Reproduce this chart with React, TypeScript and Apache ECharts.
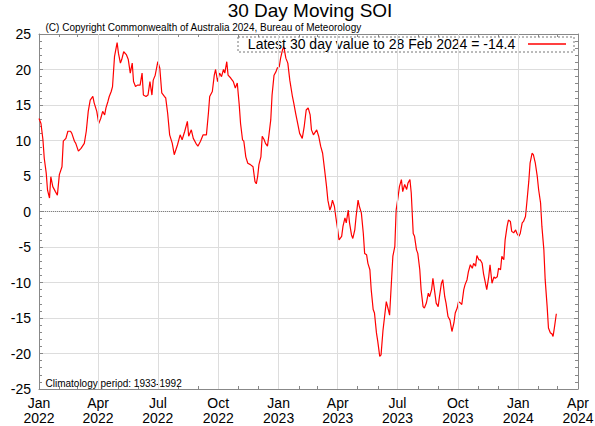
import React, { useEffect, useRef } from 'react';
import * as echarts from 'echarts';

const FONT = '"Liberation Sans", Arial, Helvetica, sans-serif';

const TITLE = '30 Day Moving SOI';
const COPYRIGHT = '(C) Copyright Commonwealth of Australia 2024, Bureau of Meteorology';
const CLIMATOLOGY = 'Climatology period: 1933-1992';
const SERIES_NAME = 'Latest 30 day value to 28 Feb 2024 = -14.4';

// Day offsets counted from 1 Jan 2022
const dayOffsets = [
  0, 3, 6, 8, 11, 13, 16, 18, 21, 25, 28, 31, 35, 37, 41, 44, 48, 50, 54, 56,
  60, 64, 69, 72, 75, 78, 82, 84, 88, 91, 94, 97, 100, 102, 105, 107, 110, 112, 115, 117,
  119, 121, 124, 126, 129, 133, 136, 139, 142, 144, 147, 150, 154, 157, 159, 163, 166, 169, 172, 174,
  177, 181, 184, 187, 191, 193, 196, 199, 203, 206,
  211, 215, 218, 222, 226, 228, 232, 235, 239, 242, 246, 250, 255, 258, 260, 264, 267, 269, 272, 275,
  278, 281, 283, 286, 288, 292, 296, 299, 302, 305, 307, 310, 312, 315, 318, 322, 326, 329, 331, 333,
  335, 338, 340, 343, 345, 348, 350, 353, 355, 358, 361, 363, 366, 368, 371, 373, 376, 379, 382, 386,
  388, 391, 394, 397, 401, 404, 407, 410, 413, 415, 418,
  423, 426, 429, 432, 435, 438, 440, 443, 445, 447, 450, 452, 455, 457, 461, 463, 466, 468, 471, 473,
  476, 478, 481, 483, 486, 488, 491, 494, 496, 499, 501, 504, 506, 509, 511, 514, 516, 519, 521, 524,
  527, 529, 532, 534, 537, 539, 542, 544, 547, 549, 552, 554, 557, 560, 562, 565, 567, 570, 572, 575,
  577, 580, 582, 585, 587, 590, 593, 595, 598, 600, 603, 605, 608, 610, 613, 615, 618, 620, 623, 626,
  629, 632, 634, 637, 639, 642, 644, 647, 649, 652, 654, 657, 660, 662, 665, 667, 670, 672, 675, 677,
  680, 682, 685, 687, 690, 693, 695, 698, 700, 703, 705, 708, 710, 713, 715, 718, 720, 723, 726, 728,
  731, 733, 736, 738, 741, 743, 746, 748, 751, 753, 756, 759, 761, 764, 766, 769, 771, 774, 776, 779,
  781, 783, 785, 788,
];

const soiValues = [
  13.1, 12.4, 10.1, 7.5, 5.4, 3.0, 1.9, 4.9, 3.5, 2.8, 2.3, 5.2, 6.3, 9.9, 10.3, 11.3, 11.3, 11.0, 9.9, 9.6,
  8.5, 8.9, 9.6, 11.3, 14.1, 15.7, 16.2, 15.3, 14.1, 12.4, 13.1, 14.1, 13.6, 14.6, 15.5, 16.2, 16.9, 17.6, 21.8, 22.8,
  23.8, 22.3, 20.9, 21.4, 22.5, 22.1, 21.4, 19.5, 20.9, 18.3, 17.6, 17.8, 17.8, 19.5, 16.4, 16.2, 16.4, 18.3, 16.4, 18.5,
  19.2, 21.1, 20.2, 16.7, 16.2, 16.0, 13.8, 10.8, 9.6, 8.0,
  9.4, 10.8, 10.1, 11.3, 12.7, 10.6, 11.5, 10.3, 9.6, 9.2, 9.9, 10.8, 10.8, 13.8, 16.2, 16.9, 19.2, 20.0, 18.3, 19.5,
  19.0, 20.0, 19.5, 21.1, 19.2, 18.8, 18.3, 17.4, 18.1, 15.0, 12.4, 10.1, 9.9, 7.7, 6.8, 6.6, 6.3, 4.2, 3.9, 4.9,
  6.6, 7.7, 10.6, 10.1, 9.6, 9.2, 10.6, 12.9, 16.4, 19.2, 19.7, 20.2, 20.4, 21.6, 22.8, 23.2, 21.6, 20.9, 18.5, 16.2,
  15.3, 13.8, 12.4, 11.0, 10.3, 12.0, 14.3, 14.6, 13.6, 11.5, 10.8,
  11.5, 10.6, 9.2, 8.2, 5.9, 3.5, 1.6, 0.2, 0.7, 1.6, 0.7, -0.7, -2.6, -4.0, -3.5, -2.1, -0.9, -1.6, 0.2, -1.6,
  -3.3, -3.8, -2.6, -0.7, 1.6, 0.7, -0.2, -3.1, -5.9, -6.1, -7.3, -8.2, -11.0, -13.8, -14.3, -17.1, -18.3, -20.4, -20.2, -16.7,
  -14.3, -12.7, -13.8, -14.6, -9.6, -6.3, -4.9, 0.2, 2.1, 3.5, 4.5, 2.8, 3.8, 3.1, 4.0, 4.5, 2.6, -3.1, -3.5, -5.4,
  -5.9, -8.2, -11.0, -13.4, -13.6, -12.9, -11.5, -12.0, -11.0, -9.4, -11.5, -12.9, -13.4, -12.0, -10.1, -9.6, -12.0, -12.9, -14.8, -15.3,
  -16.9, -15.7, -14.3, -13.6, -12.7, -12.9, -13.1, -11.0, -10.3, -9.6, -8.5, -7.5, -8.0, -7.3, -7.7, -6.2, -6.8, -6.8, -7.3, -8.7,
  -10.1, -11.0, -9.2, -7.5, -10.1, -9.2, -9.4, -9.2, -8.0, -8.2, -6.3, -6.8, -4.0, -2.1, -1.2, -1.4, -2.8, -3.0, -2.6, -3.1,
  -3.5, -3.1, -1.6, -1.4, -0.7, 1.2, 4.2, 6.8, 8.2, 8.0, 6.8, 4.9, 3.1, 1.2, -2.1, -5.4, -9.6, -13.4, -16.4, -17.1,
  -17.2, -17.6, -16.4, -14.4,
];

// Quarterly tick labels (x axis) and month tick marks
const quarterTicks = [
  '2022-01-01', '2022-04-01', '2022-07-01', '2022-10-01',
  '2023-01-01', '2023-04-01', '2023-07-01', '2023-10-01',
  '2024-01-01', '2024-04-01',
];
const monthNames = ['Jan', 'Feb', 'Mar', 'Apr', 'May', 'Jun', 'Jul', 'Aug', 'Sep', 'Oct', 'Nov', 'Dec'];
const ORIGIN = '2022-01-01';
const X_MAX = '2024-04-01';
const Y_MIN = -25;
const Y_MAX = 25;
const Y_STEP = 5;

function parseDay(s: string): number {
  const [y, m, d] = s.split('-').map(Number);
  return Date.UTC(y, m - 1, d);
}
const DAY_MS = 86400000;
function dayIndex(s: string): number {
  return Math.round((parseDay(s) - parseDay(ORIGIN)) / DAY_MS);
}
function dayToDate(v: number): Date {
  return new Date(parseDay(ORIGIN) + Math.round(v) * DAY_MS);
}

export default function App() {
  const ref = useRef<HTMLDivElement>(null);

  useEffect(() => {
    document.body.style.margin = '0';
    if (!ref.current) return;
    const chart = echarts.init(ref.current, undefined, { renderer: 'svg' });

    const xMin = 0;
    const xMax = dayIndex(X_MAX);
    const quarterDays = quarterTicks.map(dayIndex);
    const monthDays: number[] = [];
    for (let y = 2022; y <= 2024; y++) {
      for (let m = 0; m < 12; m++) {
        const d = Math.round((Date.UTC(y, m, 1) - parseDay(ORIGIN)) / DAY_MS);
        if (d >= xMin && d <= xMax) monthDays.push(d);
      }
    }
    const data = dayOffsets.map((d, i) => [d, soiValues[i]]);
    const inner = quarterDays.filter((t) => t > xMin && t < xMax);

    const gray = '#888888';
    const gridGray = '#dddddd';

    const option: any = {
      animation: false,
      backgroundColor: '#ffffff',
      textStyle: { fontFamily: FONT },
      grid: { left: 39, right: 17, top: 34, bottom: 37, containLabel: false, outerBoundsMode: 'none' },
      legend: {
        data: [SERIES_NAME],
        right: 29,
        top: 37,
        align: 'right',
        icon: 'rect',
        itemWidth: 38,
        itemHeight: 1.5,
        itemGap: 0,
        padding: 0,
        selectedMode: false,
        formatter: (n: string) => n + '  ',
        textStyle: { fontSize: 14, color: '#000', fontFamily: FONT },
        z: 5,
      },
      xAxis: [
        {
          type: 'value',
          position: 'bottom',
          min: xMin,
          max: xMax,
          axisLine: { show: true, onZero: false, lineStyle: { color: gray, width: 1 } },
          axisTick: { show: true, inside: true, length: 3, customValues: monthDays, lineStyle: { color: gray } },
          axisLabel: {
            customValues: quarterDays,
            formatter: (v: number) => {
              const d = dayToDate(v);
              return monthNames[d.getUTCMonth()] + '\n' + d.getUTCFullYear();
            },
            fontSize: 14,
            lineHeight: 15,
            color: '#000',
            margin: 6,
            fontFamily: FONT,
            hideOverlap: false,
          },
          splitLine: { show: false },
        },
        {
          type: 'value',
          position: 'top',
          min: xMin,
          max: xMax,
          axisLine: { show: true, onZero: false, lineStyle: { color: gray, width: 1 } },
          axisTick: { show: true, inside: true, length: 3, customValues: monthDays, lineStyle: { color: gray } },
          axisLabel: { show: false },
          splitLine: { show: false },
        },
      ],
      yAxis: [
        {
          type: 'value',
          position: 'left',
          min: Y_MIN,
          max: Y_MAX,
          interval: Y_STEP,
          axisLine: { show: true, onZero: false, lineStyle: { color: gray, width: 1 } },
          axisTick: { show: true, inside: true, length: 4, lineStyle: { color: gray } },
          minorTick: { show: true, splitNumber: 5, length: 3, lineStyle: { color: gray } },
          axisLabel: { fontSize: 14, color: '#000', margin: 8, fontFamily: FONT },
          splitLine: { show: true, showMinLine: false, showMaxLine: false, lineStyle: { color: gridGray, width: 1 } },
        },
        {
          type: 'value',
          position: 'right',
          min: Y_MIN,
          max: Y_MAX,
          interval: Y_STEP,
          axisLine: { show: true, onZero: false, lineStyle: { color: gray, width: 1 } },
          axisTick: { show: true, inside: true, length: 4, lineStyle: { color: gray } },
          minorTick: { show: true, splitNumber: 5, length: 3, lineStyle: { color: gray } },
          axisLabel: { show: false },
          splitLine: { show: false },
        },
      ],
      series: [
        {
          name: 'grid-lines',
          type: 'line',
          data: data,
          symbol: 'none',
          lineStyle: { opacity: 0 },
          silent: true,
          z: 1,
          markLine: {
            silent: true,
            symbol: ['none', 'none'],
            label: { show: false },
            lineStyle: { color: gridGray, width: 1, type: 'solid' },
            data: inner.map((t) => ({ xAxis: t })),
          },
        },
        {
          name: SERIES_NAME,
          type: 'line',
          data: data,
          symbol: 'none',
          showSymbol: false,
          lineStyle: { color: '#ff0000', width: 1.2 },
          itemStyle: { color: '#ff0000' },
          z: 3,
          markLine: {
            silent: true,
            symbol: ['none', 'none'],
            label: { show: false },
            lineStyle: { color: '#808080', width: 1, type: 'dotted' },
            data: [{ yAxis: 0 }],
          },
        },
      ],
      graphic: [
        {
          type: 'rect',
          z: 2,
          silent: true,
          shape: { x: 238, y: 37, width: 336, height: 15 },
          style: { fill: '#ffffff', stroke: '#777777', lineWidth: 1, lineDash: [2, 2] },
        },
        {
          type: 'text',
          x: 310,
          y: 1,
          style: {
            text: TITLE, fontSize: 19, fontFamily: FONT, fill: '#000',
            textAlign: 'center', align: 'center', textVerticalAlign: 'top', verticalAlign: 'top',
          },
        },
        {
          type: 'text',
          x: 45.5,
          y: 27,
          style: {
            text: COPYRIGHT, fontSize: 10, fontFamily: FONT, fill: '#000',
            textAlign: 'left', align: 'left', textVerticalAlign: 'middle', verticalAlign: 'middle',
          },
        },
        {
          type: 'text',
          x: 45.5,
          y: 383,
          z: 5,
          style: {
            text: CLIMATOLOGY, fontSize: 10, fontFamily: FONT, fill: '#000',
            textAlign: 'left', align: 'left', textVerticalAlign: 'middle', verticalAlign: 'middle',
          },
        },
      ],
    };

    chart.setOption(option);
    return () => chart.dispose();
  }, []);

  return <div ref={ref} style={{ width: 595, height: 426 }} />;
}
